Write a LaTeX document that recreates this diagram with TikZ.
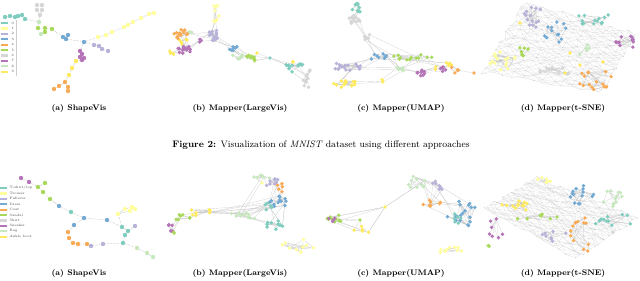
\documentclass[tikz,border=0pt]{standalone}
\usepackage{tikz}
\usetikzlibrary{backgrounds,calc}
\definecolor{cteal}{HTML}{7FCDBF}
\definecolor{clyel}{HTML}{FFFF9E}
\definecolor{clav}{HTML}{B7B2D8}
\definecolor{cblue}{HTML}{73AAD3}
\definecolor{corng}{HTML}{F9AA55}
\definecolor{cgrn}{HTML}{A9D95A}
\definecolor{cgray}{HTML}{D6D6D6}
\definecolor{cpurp}{HTML}{B574B8}
\definecolor{cpale}{HTML}{C7E8BF}
\definecolor{cyel}{HTML}{FFE95C}

% blob of mapper nodes: name, x, y, rx, ry, count, colour
\newcommand{\blob}[7]{%
  \foreach \i in {1,...,#6}{%
    \pgfmathsetmacro\ba{360*rnd}%
    \pgfmathsetmacro\br{sqrt(rnd)}%
    \node[vtx=#7] (#1-\i) at ({#2+#4*\br*cos(\ba)},{#3+#5*\br*sin(\ba)}) {};
  }%
  \ifnum#6>1
  \begin{scope}[on background layer]
    \foreach \i in {2,...,#6}{%
      \pgfmathtruncatemacro\pa{1+(\i-1)*rnd}%
      \pgfmathtruncatemacro\pb{1+(\i-1)*rnd}%
      \draw[lnk] (#1-\i) -- (#1-\pa) (#1-\i) -- (#1-\pb);
    }%
  \end{scope}
  \fi
}
% random links between two blobs: a, count a, b, count b, how many
\newcommand{\links}[5]{%
  \begin{scope}[on background layer]
  \foreach \l in {1,...,#5}{%
    \pgfmathtruncatemacro\pa{1+#2*rnd}%
    \pgfmathtruncatemacro\pb{1+#4*rnd}%
    \draw[lnk] (#1-\pa) -- (#3-\pb);
  }%
  \end{scope}
}
% t-SNE web: name, corners L, T, R, B
\newcommand{\mesh}[9]{%
  \foreach \i in {0,...,16}{\foreach \j in {0,...,12}{%
    \pgfmathsetmacro\ms{\i/16}\pgfmathsetmacro\mt{\j/12}%
    \pgfmathsetmacro\mx{(1-\ms)*(1-\mt)*#2+\ms*(1-\mt)*#4+\ms*\mt*#6+(1-\ms)*\mt*#8+2*rand}%
    \pgfmathsetmacro\my{(1-\ms)*(1-\mt)*#3+\ms*(1-\mt)*#5+\ms*\mt*#7+(1-\ms)*\mt*#9+2*rand}%
    \node[speck] (#1-\i-\j) at (\mx,\my) {};
  }}%
  \begin{scope}[on background layer]
  \foreach \i in {1,...,16}{\foreach \j in {0,...,12}{%
    \pgfmathtruncatemacro\pa{\i-1}%
    \draw[mlnk] (#1-\i-\j) -- (#1-\pa-\j);
  }}%
  \foreach \i in {0,...,16}{\foreach \j in {1,...,12}{%
    \pgfmathtruncatemacro\pb{\j-1}%
    \draw[mlnk] (#1-\i-\j) -- (#1-\i-\pb);
  }}%
  \foreach \i in {1,...,16}{\foreach \j in {1,...,12}{%
    \pgfmathtruncatemacro\pa{\i-1}\pgfmathtruncatemacro\pb{\j-1}%
    \draw[mlnk] (#1-\i-\j) -- (#1-\pa-\pb) (#1-\pa-\j) -- (#1-\i-\pb);
  }}%
  \end{scope}
}

\begin{document}
\begin{tikzpicture}[x=1pt,y=-1pt]

\tikzset{
  vtx/.style={circle,inner sep=0pt,minimum size=3.8pt,fill=#1},
  sv/.style={circle,inner sep=0pt,minimum size=4.4pt,fill=#1},
  speck/.style={circle,inner sep=0pt,minimum size=0.7pt,fill=gray!70},
  lnk/.style={draw=gray!50,line width=0.15pt},
  mlnk/.style={draw=gray!35,line width=0.12pt},
  svlnk/.style={draw=gray!65,line width=0.5pt,densely dotted},
  swatch/.style={inner sep=0pt,minimum width=7pt,minimum height=2.2pt,fill=#1},
  legtxt/.style={font=\fontsize{3.3}{4}\selectfont,anchor=west,inner sep=0pt,text=black!75},
  subcap/.style={font=\fontsize{8}{9}\selectfont\bfseries,inner sep=0pt},
}
\useasboundingbox (0,0) rectangle (640,281);
\pgfmathsetseed{11}

% ---- top row, MNIST
% (a) ShapeVis
\foreach \p [count=\k] in {(5,17),(10,16),(15,17),(18,16),(22,15),(25,19)} \node[sv=cteal] (at-\k) at \p {};
\foreach \p [count=\k] in {(37,5),(42,5),(37,10),(42,10),(40,15)} \node[sv=cgray] (ag-\k) at \p {};
\foreach \p [count=\k] in {(39,22),(41,34)} \node[sv=cpale] (ap-\k) at \p {};
\foreach \p [count=\k] in {(38,28),(45,28),(52,29),(45,32)} \node[sv=cgrn] (agr-\k) at \p {};
\foreach \p [count=\k] in {(63,37),(68,35),(66,39),(84,42)} \node[sv=cblue] (ab-\k) at \p {};
\foreach \p [count=\k] in {(94,45),(99,46),(102,49),(108,51)} \node[sv=clav] (al-\k) at \p {};
\foreach \p [count=\k] in {(98,37),(106,35),(112,32),(124,27),(128,25),(133,22),(141,18),(149,14),(154,13)} \node[sv=clyel] (aly-\k) at \p {};
\foreach \p [count=\k] in {(80,51),(82,54),(80,57),(84,58),(82,60)} \node[sv=cpurp] (apu-\k) at \p {};
\foreach \p [count=\k] in {(76,61),(72,68),(69,75)} \node[sv=cyel] (ay-\k) at \p {};
\foreach \p [count=\k] in {(65,82),(68,87),(59,86),(54,89),(68,91)} \node[sv=corng] (ao-\k) at \p {};
\begin{scope}[on background layer]
\draw[svlnk] (at-1)--(at-2)--(at-3)--(at-4)--(at-5)--(at-6)--(ap-1);
\draw[svlnk] (ag-1)--(ag-3)--(ag-5) (ag-2)--(ag-4)--(ag-5)--(ap-1);
\draw[svlnk] (ap-1)--(agr-1)--(agr-2)--(agr-3) (agr-2)--(agr-4)--(ap-2);
\draw[svlnk] (agr-3)--(ab-1)--(ab-2)--(ab-3)--(ab-1) (ab-3)--(ab-4);
\draw[svlnk] (ab-4)--(al-1)--(al-2)--(al-3)--(al-4);
\draw[svlnk] (ab-4)--(aly-1)--(aly-2)--(aly-3)--(aly-4)--(aly-5)--(aly-6)--(aly-7)--(aly-8)--(aly-9);
\draw[svlnk] (ab-4)--(apu-1)--(apu-2)--(apu-3)--(apu-4)--(apu-5);
\draw[svlnk] (apu-5)--(ay-1)--(ay-2)--(ay-3)--(ao-1)--(ao-2)--(ao-5) (ao-1)--(ao-3)--(ao-4);
\end{scope}
\foreach \c [count=\k from 0] in {cteal,clyel,clav,cblue,corng,cgrn,cgray,cpurp,cpale,cyel}{
  \node[swatch=\c] (lg-\k) at (4.5,{23+5.4*\k}) {};
  \node[legtxt] (lt-\k) at (11.5,{23+5.4*\k}) {\k};
}
\draw[gray!40,line width=0.3pt] (16,20) -- (16,76);

% (b) Mapper(LargeVis)
\blob{bly}{216}{14}{4}{10}{10}{clyel}
\blob{blv}{215}{36}{8}{7}{18}{clav}
\blob{bor}{180}{34}{8}{5}{16}{corng}
\blob{bpa}{190}{32}{2}{2}{2}{cpale}
\blob{byn}{184}{42}{6}{3}{5}{cyel}
\blob{bpu}{185}{50}{8}{4}{16}{cpurp}
\blob{bpv}{199}{41}{3}{2}{3}{cpurp}
\blob{byt}{170}{53}{5}{2}{4}{cyel}
\blob{bbl}{235}{48}{8}{3}{8}{cblue}
\blob{bpg}{238}{56}{6}{4}{8}{cpale}
\blob{bgr}{251}{58}{5}{4}{9}{cgrn}
\blob{bys}{257}{53}{0}{0}{1}{cyel}
\blob{bts}{270}{58}{0}{0}{1}{cteal}
\blob{bte}{294}{67}{10}{5}{14}{cteal}
\blob{byw}{293}{62}{2}{1}{2}{cyel}
\blob{bgy}{307}{78}{5}{10}{10}{cgray}
\links{bly}{10}{blv}{18}{4} \links{blv}{18}{bpv}{3}{3} \links{blv}{18}{bbl}{8}{4}
\links{bpv}{3}{bpu}{16}{3} \links{bor}{16}{bpu}{16}{5} \links{bor}{16}{byn}{5}{3}
\links{byn}{5}{bpu}{16}{3} \links{bpa}{2}{bor}{16}{2} \links{byt}{4}{bpu}{16}{3}
\links{bbl}{8}{bpg}{8}{4} \links{bpg}{8}{bgr}{9}{4} \links{bbl}{8}{bgr}{9}{3}
\links{bgr}{9}{bys}{1}{2} \links{bys}{1}{bts}{1}{1} \links{bgr}{9}{bts}{1}{3}
\links{bts}{1}{bte}{14}{3} \links{bte}{14}{byw}{2}{2} \links{bte}{14}{bgy}{10}{4}
\links{blv}{18}{bor}{16}{2}

% (c) Mapper(UMAP)
\blob{cte}{357}{8}{5}{5}{10}{cteal}
\blob{cgy}{353}{19}{8}{5}{12}{cgray}
\blob{cgc}{368}{35}{4}{8}{6}{cgray}
\blob{cbl}{378}{57}{9}{4}{9}{cblue}
\blob{cgr}{412}{57}{20}{3}{12}{cgrn}
\blob{clv}{345}{67}{18}{4}{16}{clav}
\blob{cpg}{402}{69}{6}{3}{6}{cpale}
\blob{cpu}{423}{73}{7}{3}{9}{cpurp}
\blob{cpv}{443}{67}{4}{6}{6}{cpurp}
\blob{cya}{436}{69}{2}{2}{2}{cyel}
\blob{cyb}{449}{64}{3}{3}{4}{cyel}
\blob{cor}{455}{69}{4}{4}{5}{corng}
\blob{cos}{474}{73}{0}{0}{1}{corng}
\blob{cyy}{345}{84}{13}{4}{14}{cyel}
\blob{cyc}{381}{80}{8}{2}{2}{cyel}
\links{cte}{10}{cgy}{12}{3} \links{cgy}{12}{cgc}{6}{3} \links{cgc}{6}{cbl}{9}{3}
\links{cgc}{6}{cgr}{12}{2} \links{cbl}{9}{clv}{16}{4} \links{cbl}{9}{cgr}{12}{4}
\links{cbl}{9}{cpg}{6}{3} \links{cgr}{12}{cpg}{6}{3} \links{cgr}{12}{cpv}{6}{3}
\links{cpg}{6}{cpu}{9}{3} \links{cpu}{9}{cpv}{6}{3} \links{cpu}{9}{cya}{2}{2}
\links{cpv}{6}{cyb}{4}{3} \links{cyb}{4}{cor}{5}{3} \links{cor}{5}{cos}{1}{1}
\links{clv}{16}{cyy}{14}{3} \links{cyy}{14}{cyc}{2}{2} \links{cyc}{2}{cpg}{6}{2}
\links{clv}{16}{cpg}{6}{2} \links{cgr}{12}{cyb}{4}{2}

% (d) Mapper(t-SNE)
\mesh{dt}{483}{72}{525}{2}{637}{35}{600}{92}
\blob{dlv}{533}{17}{9}{13}{14}{clav}
\blob{dte}{595}{19}{22}{6}{14}{cteal}
\blob{dpu}{625}{43}{10}{9}{12}{cpurp}
\blob{dor}{595}{79}{17}{11}{16}{corng}
\blob{dgy}{555}{71}{17}{4}{10}{cgray}
\blob{dly}{500}{60}{15}{12}{16}{clyel}
\blob{dgr}{527}{50}{9}{7}{7}{cgrn}
\blob{dbl}{555}{32}{14}{11}{12}{cblue}
\blob{dpg}{583}{50}{7}{7}{5}{cpale}
\foreach \p [count=\k] in {(520,23),(565,73),(570,53),(603,62),(580,65)} \node[vtx=cyel] (dy-\k) at \p {};

% ---- bottom row, Fashion-MNIST
% (a) ShapeVis
\foreach \p [count=\k] in {(21,178),(29,182)} \node[sv=cpurp] (epu-\k) at \p {};
\foreach \p [count=\k] in {(45,183),(38,187),(43,192),(50,199)} \node[sv=cgrn] (egr-\k) at \p {};
\foreach \p [count=\k] in {(59,206),(84,218),(74,225),(107,220)} \node[sv=cblue] (ebl-\k) at \p {};
\foreach \p [count=\k] in {(71,212),(122,227),(128,231),(125,235),(123,243)} \node[sv=cteal] (ete-\k) at \p {};
\foreach \p [count=\k] in {(68,232),(69,238),(73,243),(78,244),(87,244)} \node[sv=corng] (eor-\k) at \p {};
\foreach \p [count=\k] in {(91,246),(103,244),(135,226)} \node[sv=clav] (elv-\k) at \p {};
\foreach \p [count=\k] in {(137,248),(147,253),(153,257)} \node[sv=cpale] (epg-\k) at \p {};
\foreach \p [count=\k] in {(118,214),(125,209),(132,207),(135,209),(130,211)} \node[sv=clyel] (ely-\k) at \p {};
\begin{scope}[on background layer]
\draw[svlnk] (epu-1)--(epu-2)--(egr-2)--(egr-1) (egr-2)--(egr-3)--(egr-4)--(ebl-1)--(ete-1)--(ebl-2)--(ebl-4);
\draw[svlnk] (ebl-2)--(ebl-3)--(eor-1)--(eor-2)--(eor-3)--(eor-4)--(eor-5)--(elv-1)--(elv-2)--(ete-5);
\draw[svlnk] (ebl-4)--(ete-2)--(ete-3)--(ete-4)--(ete-5)--(epg-1)--(epg-2)--(epg-3) (ete-3)--(elv-3);
\draw[svlnk] (ete-2)--(ely-1)--(ely-2)--(ely-3)--(ely-4) (ely-1)--(ely-5);
\end{scope}
\foreach \c/\t [count=\k from 0] in {cteal/T-shirt\slash top,clyel/Trouser,clav/Pullover,cblue/Dress,corng/Coat,cgrn/Sandal,cgray/Shirt,cpurp/Sneaker,cpale/Bag,cyel/Ankle boot}{
  \node[swatch=\c] (fg-\k) at (3.5,{188+5.4*\k}) {};
  \node[legtxt] (ft-\k) at (9.5,{188+5.4*\k}) {\t};
}

% (b) Mapper(LargeVis)
\blob{fpg}{262}{178}{9}{3}{6}{cpale}
\blob{flv}{272}{182}{8}{5}{8}{clav}
\blob{for}{280}{187}{4}{6}{5}{corng}
\blob{fbl}{278}{201}{10}{7}{12}{cblue}
\blob{fte}{268}{207}{4}{6}{5}{cteal}
\blob{ftb}{275}{225}{9}{5}{10}{cteal}
\blob{fls}{262}{183}{0}{0}{1}{clyel}
\blob{fpm}{243}{215}{15}{6}{10}{cpale}
\blob{fyl}{200}{212}{13}{4}{7}{cyel}
\blob{fgr}{183}{218}{9}{4}{7}{cgrn}
\blob{fpu}{172}{228}{7}{4}{6}{cpurp}
\blob{fgb}{175}{232}{2}{2}{2}{cgrn}
\blob{fys}{298}{246}{16}{8}{10}{clyel}
\links{fpg}{6}{flv}{8}{3} \links{flv}{8}{for}{5}{3} \links{flv}{8}{fbl}{12}{3}
\links{for}{5}{fbl}{12}{3} \links{fbl}{12}{fte}{5}{3} \links{fte}{5}{ftb}{10}{3}
\links{fbl}{12}{ftb}{10}{3} \links{fls}{1}{fpg}{6}{1} \links{fpm}{10}{fbl}{12}{4}
\links{fpm}{10}{fte}{5}{3} \links{fpm}{10}{ftb}{10}{3} \links{fpm}{10}{fyl}{7}{4}
\links{fyl}{7}{fgr}{7}{3} \links{fgr}{7}{fpu}{6}{3} \links{fpu}{6}{fgb}{2}{2}
\links{fpm}{10}{fpg}{6}{2} \links{fyl}{7}{fbl}{12}{3} \links{fyl}{7}{fte}{5}{2}

% (c) Mapper(UMAP)
\blob{gpg}{415}{183}{12}{7}{10}{cpale}
\blob{glv}{437}{187}{7}{6}{7}{clav}
\blob{gor}{432}{203}{10}{4}{8}{corng}
\blob{gbl}{462}{215}{15}{15}{18}{cblue}
\blob{gte}{457}{220}{5}{7}{6}{cteal}
\blob{gys}{385}{207}{0}{0}{1}{cyel}
\blob{ggr}{335}{217}{9}{6}{10}{cgrn}
\blob{gpu}{333}{219}{6}{3}{4}{cpurp}
\blob{gyy}{362}{230}{9}{4}{5}{cyel}
\blob{ggs}{360}{220}{0}{0}{1}{cgrn}
\blob{gly}{450}{251}{12}{6}{9}{clyel}
\links{gpg}{10}{glv}{7}{4} \links{glv}{7}{gor}{8}{3} \links{gor}{8}{gbl}{18}{4}
\links{glv}{7}{gbl}{18}{3} \links{gbl}{18}{gte}{6}{4} \links{gpg}{10}{gor}{8}{3}
\links{gpg}{10}{gys}{1}{2} \links{gys}{1}{ggr}{10}{3} \links{gys}{1}{gyy}{5}{2}
\links{ggr}{10}{gpu}{4}{3} \links{ggr}{10}{ggs}{1}{2} \links{ggs}{1}{gyy}{5}{2}
\links{ggr}{10}{gyy}{5}{3}

% (d) Mapper(t-SNE)
\mesh{ht}{484}{208}{537}{178}{637}{218}{575}{258}
\blob{hly}{552}{180}{15}{3}{6}{clyel}
\blob{hbl}{582}{195}{15}{10}{14}{cblue}
\blob{hpg}{613}{198}{13}{13}{12}{cpale}
\blob{hte}{615}{220}{22}{8}{12}{cteal}
\blob{hyl}{513}{206}{20}{6}{12}{cyel}
\blob{hgr}{535}{217}{22}{4}{7}{cgrn}
\blob{hgb}{487}{246}{3}{1}{2}{cgrn}
\blob{hpu}{497}{228}{10}{10}{7}{cpurp}
\blob{hlv}{553}{232}{13}{10}{8}{clav}
\blob{hor}{583}{235}{16}{20}{12}{corng}
\blob{hgy}{613}{232}{0}{0}{1}{cgray}

% ---- captions
\foreach \x/\t [count=\k] in {79/(a) ShapeVis,240/(b) Mapper(LargeVis),401/(c) Mapper(UMAP),563/(d) Mapper(t-SNE)}{
  \node[subcap] (tc-\k) at (\x,108) {\t};
  \node[subcap] (bc-\k) at (\x,273) {\t};
}
\node[font=\fontsize{9.4}{11}\selectfont,inner sep=0pt] (fig) at (321,145)
  {\textbf{Figure 2:} Visualization of \textit{MNIST} dataset using different approaches};

\end{tikzpicture}
\end{document}
